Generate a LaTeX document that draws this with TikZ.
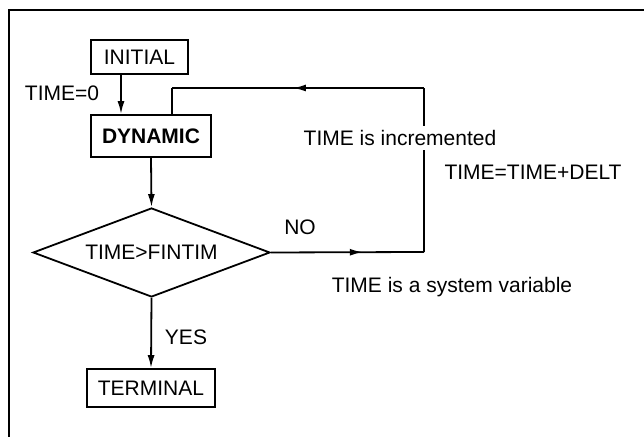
\documentclass[tikz,border=0pt]{standalone}
\usepackage{fontspec}
\setmainfont{Liberation Sans}
\usetikzlibrary{arrows.meta,shapes.geometric,decorations.markings}

\tikzset{
  block/.style={draw,inner sep=0pt},
  test/.style={draw,diamond,aspect=2.66,minimum width=118.5pt,minimum height=44.5pt,inner sep=1pt},
  arr/.style={-{Latex[length=6.5pt,width=3.5pt]}},
  midarrow/.style={postaction={decorate},decoration={markings,mark=at position #1 with {\arrow{Latex[length=6.5pt,width=3.5pt]}}}}
}

\begin{document}
\begin{tikzpicture}[x=0.5pt,y=-0.5pt,line width=0.9pt,font=\fontsize{10.5}{12}\selectfont]
		\useasboundingbox (0,0) rectangle (644,437);
		\draw[line width=1pt] (9,10) rectangle (660,460);
		% blocks
		\node[block,minimum width=48.5pt,minimum height=17pt] (init) at (139.5,57) {INITIAL};
		\node (tzero) at (62,93) {TIME=0};
		\node[block,minimum width=60pt,minimum height=21pt,font=\fontsize{10.5}{12}\selectfont\bfseries] (dyn) at (151,136) {DYNAMIC};
		\node[test] (cond) at (151.5,252.5) {TIME>FINTIM};
		\node[block,minimum width=64pt,minimum height=19pt] (term) at (151,388) {TERMINAL};
		\node (no) at (300,227) {NO};
		\node (yes) at (186,337) {YES};
		% loop back
		\coordinate (loopa) at (424,252);
		\coordinate (loopb) at (424,88);
		\coordinate (loopc) at (172,88);
		\draw[arr] ([xshift=-9.25pt]init.south) -- ([xshift=-9.25pt]init.south |- dyn.north);
		\draw[arr] (dyn.south) -- (cond.north);
		\draw[arr] (cond.south) -- (term.north);
		\draw[midarrow=0.6] (cond.east) -- (loopa);
		\draw (loopa) -- (loopb);
		\draw[midarrow=0.52] (loopb) -- (loopc);
		\draw (loopc) -- (loopc |- dyn.north);
		\node[fill=white,inner xsep=1pt,inner ysep=2pt] (incr) at (400,138) {TIME is incremented};
		\node (upd) at (533,172) {TIME=TIME+DELT};
		\node (sysvar) at (452,287) {TIME is a system variable};
	\end{tikzpicture}
\end{document}
